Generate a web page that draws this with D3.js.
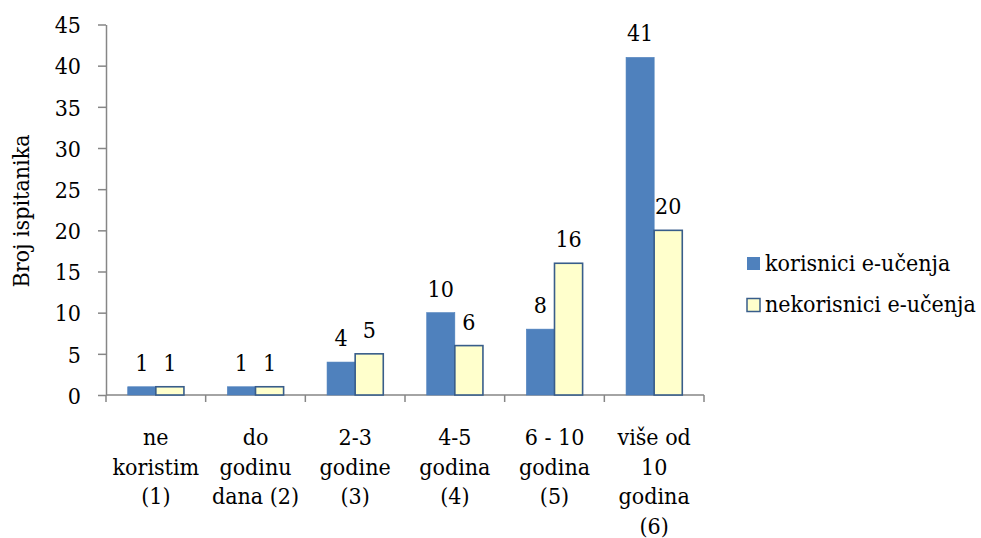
<!DOCTYPE html>
<html>
<head>
<meta charset="utf-8">
<script src="https://cdn.jsdelivr.net/npm/d3@7"></script>
<style>
  body { margin: 0; background: #fff; }
  svg, svg text { font-family: "DejaVu Serif Condensed", "DejaVu Serif", serif; font-stretch: condensed; }
</style>
</head>
<body>
<div id="chart"></div>
<script>
// data
var categories = [
  ["ne", "koristim", "(1)"],
  ["do", "godinu", "dana (2)"],
  ["2-3", "godine", "(3)"],
  ["4-5", "godina", "(4)"],
  ["6 - 10", "godina", "(5)"],
  ["više od", "10", "godina", "(6)"]
];
var seriesNames = ["korisnici e-učenja", "nekorisnici e-učenja"];
var korisnici = [1, 1, 4, 10, 8, 41];
var nekorisnici = [1, 1, 5, 6, 16, 20];
var yTicks = [0, 5, 10, 15, 20, 25, 30, 35, 40, 45];
var colors = ["#4F81BD", "#FFFFCC"];

var width = 981, height = 538;
var plotLeft = 106, plotRight = 704, plotTop = 24.5, plotBottom = 395;
var fontSize = 23;

var svg = d3.select("#chart").append("svg")
  .attr("width", width)
  .attr("height", height);

var catIndex = categories.map(function(d, i) { return i; });

var x0 = d3.scaleBand()
  .domain(catIndex)
  .range([plotLeft, plotRight])
  .padding(0);

var bw = x0.bandwidth();
var x1 = d3.scaleBand()
  .domain([0, 1])
  .range([bw * 0.218, bw * 0.782])
  .padding(0);

var y = d3.scaleLinear()
  .domain([0, 45])
  .range([plotBottom, plotTop]);

// y axis
var yAxis = d3.axisLeft(y)
  .tickValues(yTicks)
  .tickSize(8)
  .tickPadding(17)
  .tickSizeOuter(0);

var gy = svg.append("g")
  .attr("transform", "translate(" + plotLeft + ",0)")
  .call(yAxis);
gy.attr("font-family", null).attr("font-size", null);
gy.selectAll("text")
  .attr("dy", "0.36em")
  .attr("fill", "#000")
  .style("font-size", fontSize + "px");

// x axis: ticks at band boundaries
var gx = svg.append("g")
  .attr("transform", "translate(0," + plotBottom + ")");
gx.append("line")
  .attr("x1", plotLeft).attr("x2", plotRight)
  .attr("y1", 0).attr("y2", 0);
gx.selectAll(".tk")
  .data(catIndex.concat([categories.length]))
  .enter().append("line")
  .attr("class", "tk")
  .attr("x1", function(i) { return i < categories.length ? x0(i) : plotRight; })
  .attr("x2", function(i) { return i < categories.length ? x0(i) : plotRight; })
  .attr("y1", 0).attr("y2", 7);

svg.selectAll("g path.domain, g line")
  .attr("stroke", "#868686")
  .attr("stroke-width", 1.5);

// category labels
var labels = svg.selectAll(".catLabel")
  .data(categories)
  .enter().append("text")
  .attr("class", "catLabel")
  .attr("text-anchor", "middle")
  .style("font-size", fontSize + "px");

labels.each(function(lines, i) {
  var t = d3.select(this);
  lines.forEach(function(s, j) {
    t.append("tspan")
      .attr("x", x0(i) + bw / 2)
      .attr("y", 445 + j * 29.5)
      .text(s);
  });
});

// bars
var rows = catIndex.map(function(i) {
  return [korisnici[i], nekorisnici[i]];
});

var groups = svg.selectAll(".grp")
  .data(rows)
  .enter().append("g")
  .attr("class", "grp")
  .attr("transform", function(d, i) { return "translate(" + x0(i) + ",0)"; });

groups.selectAll("rect")
  .data(function(d) { return d; })
  .enter().append("rect")
  .attr("x", function(d, s) { return x1(s); })
  .attr("y", function(d) { return y(d); })
  .attr("width", x1.bandwidth())
  .attr("height", function(d) { return plotBottom - y(d); })
  .attr("fill", function(d, s) { return colors[s]; })
  .attr("stroke", function(d, s) { return s == 1 ? "#385D8A" : "#4A7EBB"; })
  .attr("stroke-width", function(d, s) { return s == 1 ? 1.6 : 0.6; });

groups.selectAll("text")
  .data(function(d) { return d; })
  .enter().append("text")
  .attr("x", function(d, s) { return x1(s) + x1.bandwidth() / 2; })
  .attr("y", function(d) { return y(d) - 16; })
  .attr("text-anchor", "middle")
  .style("font-size", fontSize + "px")
  .text(function(d) { return d; });

// y axis title
svg.append("text")
  .attr("transform", "translate(29,211) rotate(-90)")
  .attr("text-anchor", "middle")
  .style("font-size", fontSize + "px")
  .text("Broj ispitanika");

// legend
var legend = svg.selectAll(".legend")
  .data(seriesNames)
  .enter().append("g")
  .attr("class", "legend")
  .attr("transform", function(d, i) { return "translate(747," + (257 + i * 41.5) + ")"; });

legend.append("rect")
  .attr("width", 13)
  .attr("height", 13)
  .attr("fill", function(d, i) { return colors[i]; })
  .attr("stroke", function(d, i) { return i == 1 ? "#385D8A" : "none"; })
  .attr("stroke-width", 1.5);

legend.append("text")
  .attr("x", 18)
  .attr("y", 13.5)
  .style("font-size", fontSize + "px")
  .text(function(d) { return d; });
</script>
</body>
</html>
